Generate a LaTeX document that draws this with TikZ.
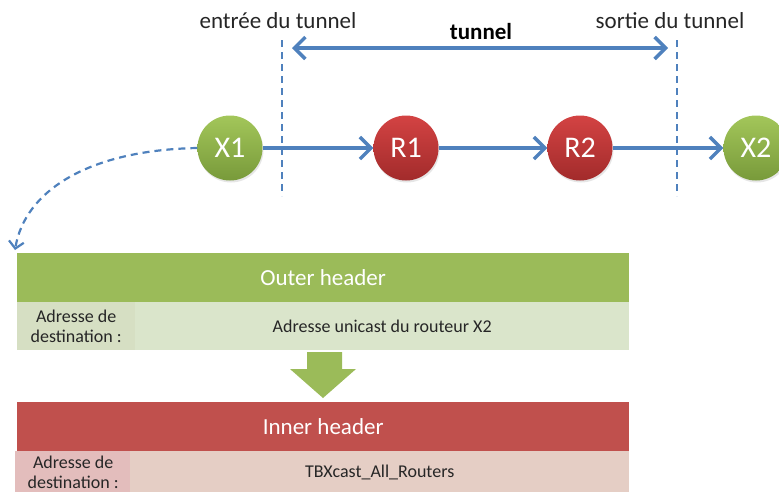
\documentclass[tikz,border=0pt]{standalone}
\usepackage{fontspec}
\setmainfont{Carlito}
\usetikzlibrary{arrows.meta,shadows}
\definecolor{linkblue}{HTML}{4F81BD}
\definecolor{hgreen}{HTML}{9BBB59}
\definecolor{hred}{HTML}{C0504D}
\definecolor{gtop}{HTML}{A3C65A}
\definecolor{gbot}{HTML}{789A3A}
\definecolor{rtop}{HTML}{D34343}
\definecolor{rbot}{HTML}{A22B2B}
\definecolor{gcellA}{HTML}{D6DFC3}
\definecolor{gcellB}{HTML}{DAE5CB}
\definecolor{rcellA}{HTML}{E3BDBC}
\definecolor{rcellB}{HTML}{E5CEC5}
\tikzset{
  barb/.tip={Straight Barb[length=11pt,width=22pt,line width=3.4pt]},
  router/.style={circle, minimum size=65pt, inner sep=0pt, text=white,
    font=\fontsize{30}{30}\selectfont, drop shadow={opacity=0.2, shadow xshift=1pt, shadow yshift=-2pt}},
  greenrouter/.style={router, top color=gtop, bottom color=gbot},
  redrouter/.style={router, top color=rtop, bottom color=rbot},
  link/.style={draw=linkblue, line width=3.8pt, -barb},
  border/.style={draw=linkblue, line width=2pt, dash pattern=on 7pt off 5pt},
  label/.style={font=\fontsize{23}{23}\selectfont, text=black!85},
  cell/.style={inner sep=0pt, align=center, font=\fontsize{18}{19.5}\selectfont, text=black!85},
  bar/.style={inner sep=0pt, text=white, font=\fontsize{23}{23}\selectfont}
}
\begin{document}
\begin{tikzpicture}[x=1pt, y=-1pt]
\useasboundingbox (0,0) rectangle (779,491);

% tunnel boundaries
\coordinate (inTop) at (282,40);
\coordinate (inBot) at (282,196);
\coordinate (outTop) at (677,40);
\coordinate (outBot) at (677,196);
\draw[border] (inTop) -- (inBot);
\draw[border] (outTop) -- (outBot);

\node[label] (entree) at (278,21) {entrée du tunnel};
\node[label] (sortie) at (670,21) {sortie du tunnel};
\node[label, font=\bfseries\fontsize{23}{23}\selectfont, text=black] (tun) at (481,32) {tunnel};

% tunnel extent
\coordinate (tl) at (292,48);
\coordinate (tr) at (668,48);
\draw[draw=linkblue, line width=3.8pt, barb-barb] (tl) -- (tr);

% routers
\node[greenrouter] (X1) at (230,148) {X1};
\node[redrouter]   (R1) at (406,148) {R1};
\node[redrouter]   (R2) at (580,148) {R2};
\node[greenrouter] (X2) at (756,148) {X2};

\draw[link] (X1) -- (R1);
\draw[link] (R1) -- (R2);
\draw[link] (R2) -- (X2);

% outer header
\node[bar, fill=hgreen, minimum width=612pt, minimum height=49pt, anchor=north west] (outer) at (17,253) {Outer header};
\node[cell, fill=gcellA, minimum width=118pt, minimum height=48pt, anchor=north west] (oa) at (17,302) {Adresse de\\destination :};
\node[cell, fill=gcellB, minimum width=494pt, minimum height=48pt, anchor=north west] (ob) at (135,302) {Adresse unicast du routeur X2};

% encapsulation curve
\coordinate (cend) at (15,250);
\draw[border, line width=2.2pt, dash pattern=on 7pt off 5pt,
  -{Straight Barb[length=7pt,width=15pt,line width=2.2pt]}]
  (X1.west) .. controls (90,150) and (25,190) .. (cend);

% transition arrow
\fill[hgreen] (307,352) -- (342,352) -- (342,369) -- (356,369) -- (323,398) -- (290,369) -- (307,369) -- cycle;

% inner header
\node[bar, fill=hred, minimum width=612pt, minimum height=49pt, anchor=north west] (inner) at (17,402) {Inner header};
\node[cell, fill=rcellA, minimum width=116pt, minimum height=42pt, anchor=north west] (ia) at (15,451) {Adresse de\\destination :};
\node[cell, fill=rcellB, minimum width=499pt, minimum height=42pt, anchor=north west] (ib) at (130,451) {TBXcast\_All\_Routers};
\end{tikzpicture}
\end{document}
